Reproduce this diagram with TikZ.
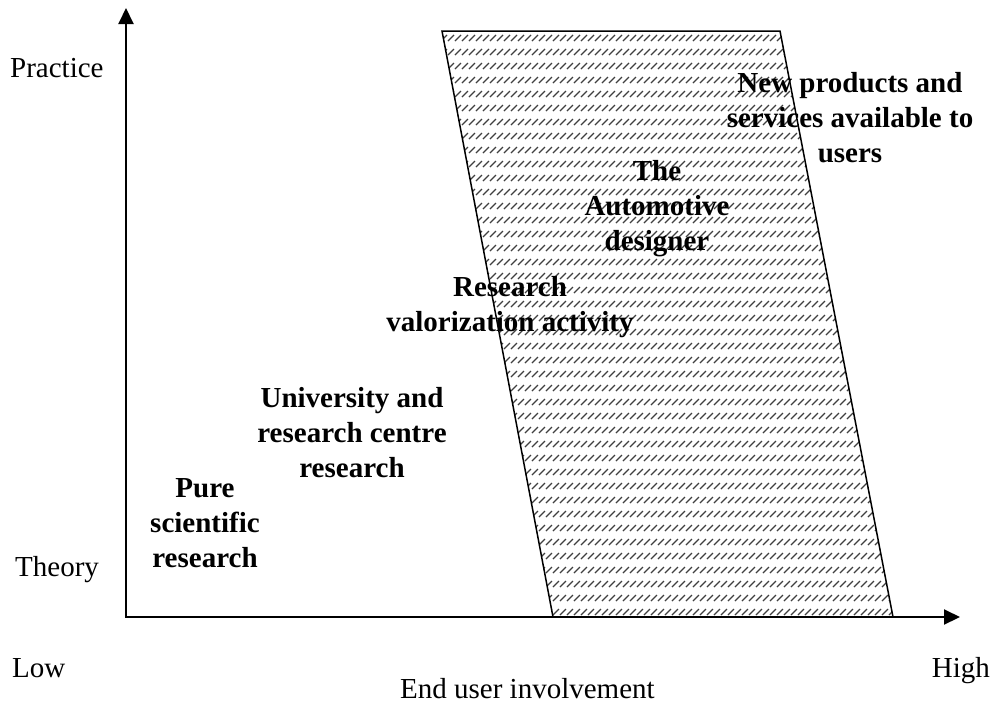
\documentclass[tikz,border=0pt]{standalone}
\usepackage{fontspec}
\setmainfont{Liberation Serif}
\usetikzlibrary{arrows.meta}
\begin{document}
\begin{tikzpicture}[x=1pt,y=-1pt,
  >={Triangle[length=16pt,width=15pt]},
  lbl/.style={font=\fontsize{29}{35}\selectfont, inner sep=0pt},
  blk/.style={font=\bfseries\fontsize{29}{35}\selectfont, align=center, inner sep=0pt, anchor=base},
  hatch/.style={black!75, line width=1.2pt, dash pattern=on 8.49pt off 11.31pt},
  axis/.style={line width=2pt, line join=miter, <->}]
\useasboundingbox (0,0) rectangle (993,705);
% hatched parallelogram
\coordinate (A) at (442,31);
\coordinate (B) at (780,31);
\coordinate (C) at (893,617);
\coordinate (D) at (553,617);
\begin{scope}
  \clip (A) -- (B) -- (C) -- (D) -- cycle;
  \foreach \i in {0,...,150} {
    \draw[hatch] (440+7*\i,35) -- ++(-600,600);
  }
\end{scope}
\draw[line width=1.5pt, line join=miter] (A) -- (B) -- (C) -- (D) -- cycle;
% axes
\coordinate (O) at (126,617);
\coordinate (Ytip) at (126,8);
\coordinate (Xtip) at (960,617);
\draw[axis] (Ytip) -- (O) -- (Xtip);
% axis labels
\node[lbl, anchor=base west] (practice) at (10,77.7) {Practice};
\node[lbl, anchor=base west] (theory) at (15,576) {Theory};
\node[lbl, anchor=base west] (low) at (12,677) {Low};
\node[lbl, anchor=base east] (high) at (990,677) {High};
\node[lbl, anchor=base west] (enduser) at (400,698) {End user involvement};
% stage labels (anchor = baseline of last line)
\node[blk] (pure) at (205,567) {Pure\\scientific\\research};
\node[blk] (univ) at (352,477) {University and\\research centre\\research};
\node[blk] (valor) at (510,331) {Research\\valorization activity};
\node[blk] (auto) at (657,250) {The\\Automotive\\designer};
\node[blk] (newp) at (850,162) {New products and\\services available to\\users};
\end{tikzpicture}
\end{document}
